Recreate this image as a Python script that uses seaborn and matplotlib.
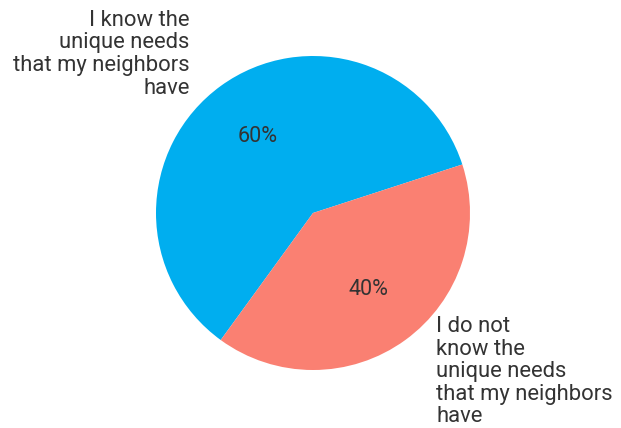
import matplotlib
matplotlib.use("Agg")
import matplotlib.pyplot as plt
import seaborn as sns

# Survey response shares
categories = [
    "I know the\nunique needs\nthat my neighbors\nhave",
    "I do not\nknow the\nunique needs\nthat my neighbors\nhave",
]
shares = [60, 40]
slice_colors = ["#00AEEF", "#FA8072"]

sns.set_theme(style="white")
plt.rcParams["font.family"] = ["Roboto", "DejaVu Sans"]

W, H, DPI = 621, 428, 100
fig = plt.figure(figsize=(W / DPI, H / DPI), dpi=DPI)
ax = fig.add_axes([0, 0, 1, 1])

palette = sns.color_palette(slice_colors)
wedges, texts, autotexts = ax.pie(
    shares,
    labels=categories,
    colors=palette,
    startangle=18,
    counterclock=True,
    autopct="%1.0f%%",
    pctdistance=0.6,
    labeldistance=1.25,
    wedgeprops={"linewidth": 0, "edgecolor": "none"},
    textprops={"fontsize": 15.8, "color": "#333333"},
)
for t in autotexts:
    t.set_fontsize(15.5)
    t.set_color("#333333")

# stretch the outer labels sideways a little so they clear the pie
for t in texts:
    x, y = t.get_position()
    t.set_position((x * 1.07, y))
    t.set_linespacing(1.1)

# place the pie: centre (313, 213) px, radius 157 px
r_px = 157
cx, cy = 313, 213
ax.set_xlim(-cx / r_px, (W - cx) / r_px)
ax.set_ylim(-(H - cy) / r_px, cy / r_px)
ax.set_aspect("auto")
ax.axis("off")

fig.savefig("out.png", dpi=DPI, facecolor="white")
